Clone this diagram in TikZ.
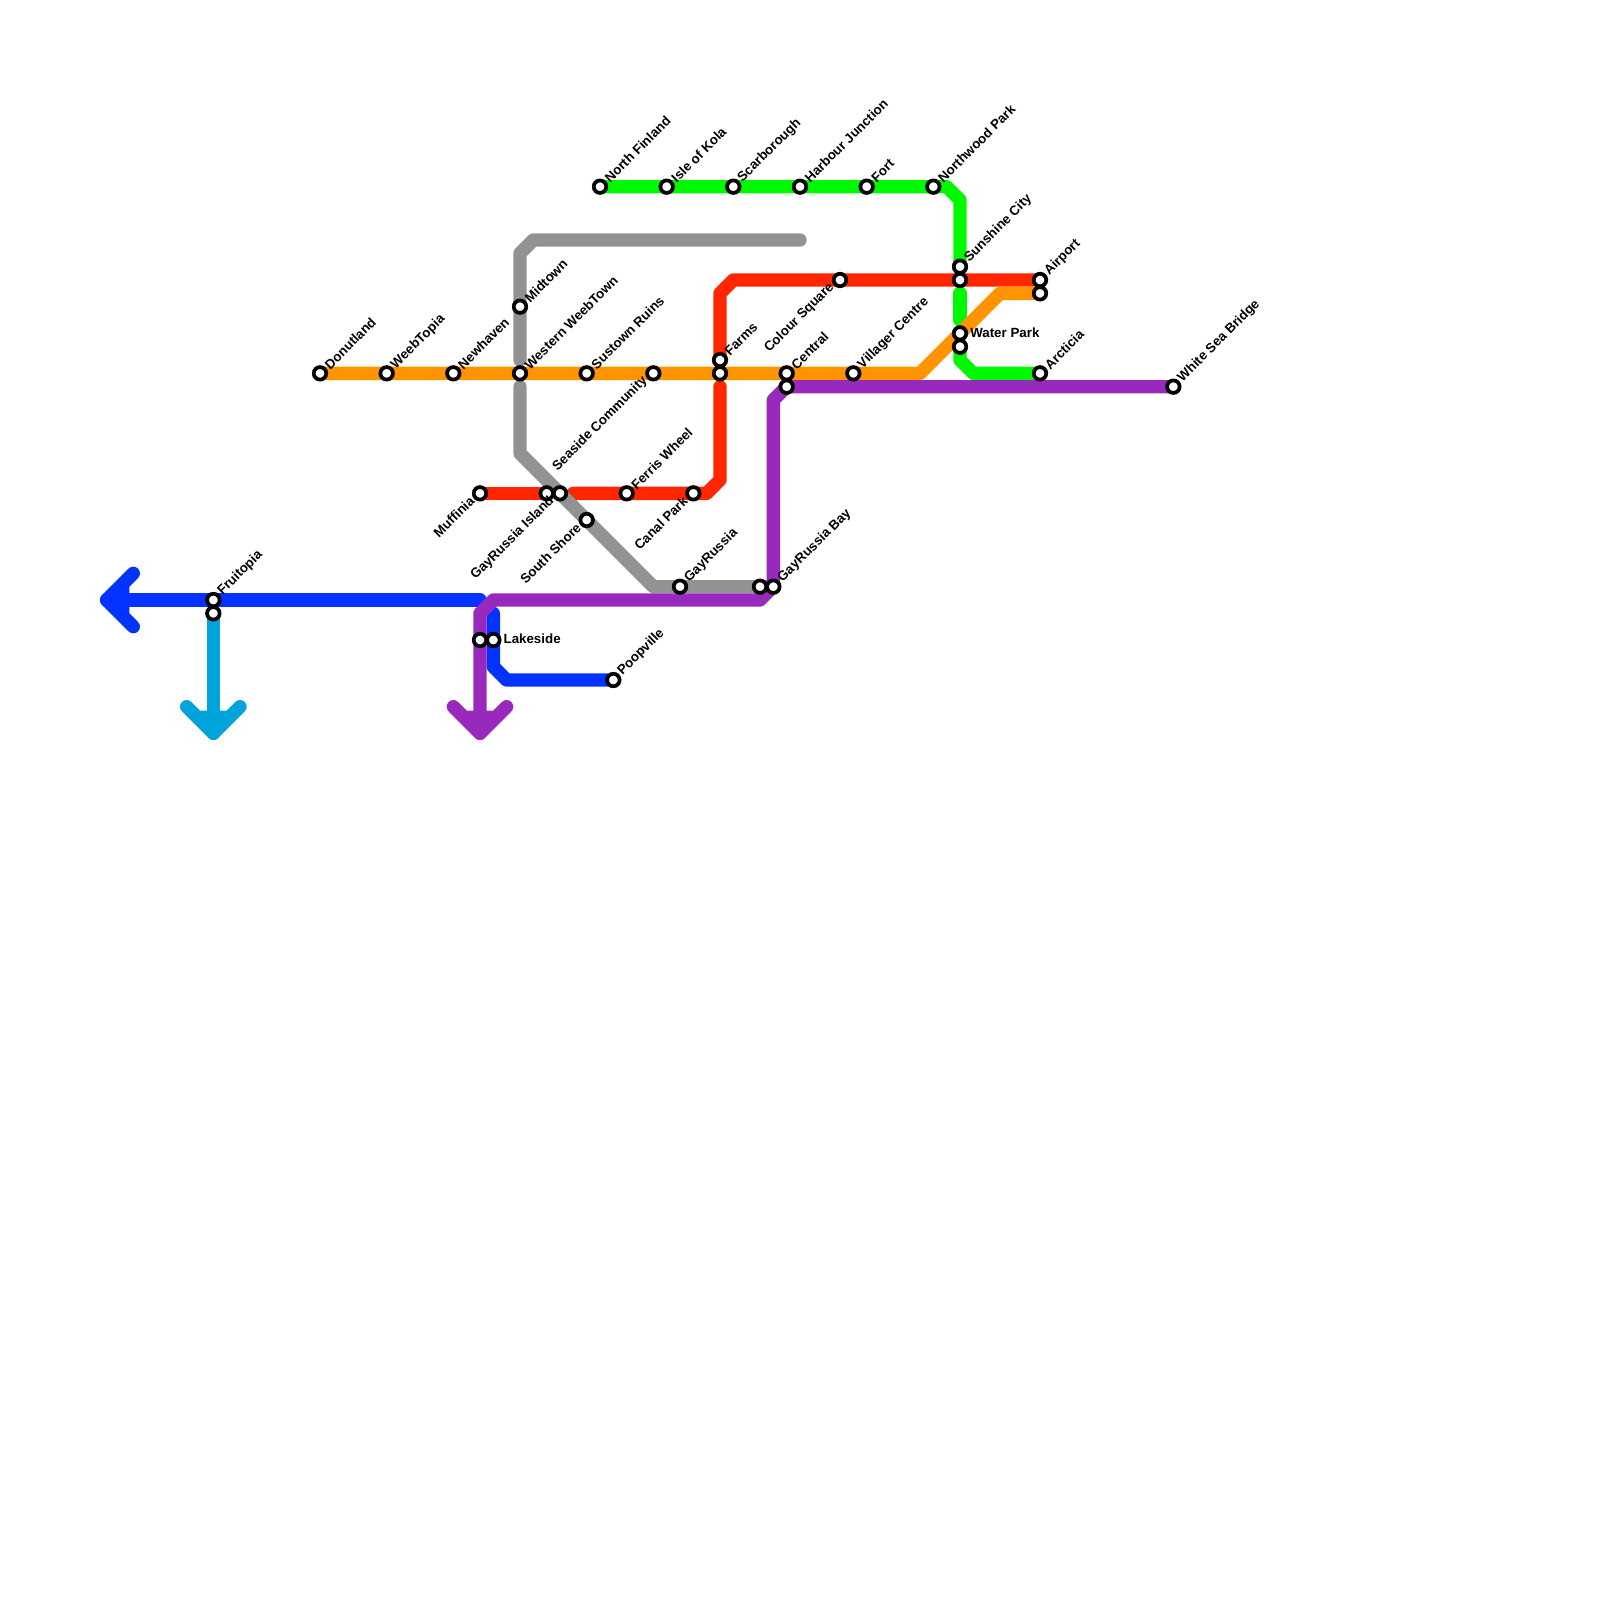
\documentclass[tikz,border=0pt]{standalone}
\usepackage{fontspec}
\setmainfont{Liberation Sans}
\pgfdeclarelayer{lines}
\pgfsetlayers{lines,main}

\definecolor{orangeline}{RGB}{255, 147, 0}
\definecolor{redline}{RGB}{255, 38, 0}
\definecolor{greenline}{RGB}{0, 249, 0}
\definecolor{greyline}{RGB}{146, 146, 146}
\definecolor{blueline}{RGB}{4, 51, 255}
\definecolor{aqualine}{RGB}{0, 163, 218}
\definecolor{purpleline}{RGB}{153, 41, 189}

\tikzset{
  metro/.style={line width=10pt, line cap=round, line join=round},
  stn/.style={circle, draw=black, fill=white, line width=2.8pt, minimum size=9.4pt, inner sep=0pt},
  lblne/.style={font=\fontsize{10}{10}\selectfont\bfseries, rotate=45, anchor=west, inner sep=0pt, xshift=7pt, yshift=-0.1pt},
  lblsw/.style={font=\fontsize{10}{10}\selectfont\bfseries, rotate=45, anchor=east, inner sep=0pt, xshift=-7pt, yshift=1.4pt},
  lblr/.style={font=\fontsize{10}{10}\selectfont\bfseries, anchor=west, inner sep=0pt, xshift=7.5pt, yshift=0.7pt}
}

\begin{document}
\begin{tikzpicture}[x=10pt, y=-10pt]
\useasboundingbox (0,0) rectangle (120,120);

% orange
\node[stn] (donutland) at (24,28) {};
\node[lblne] at (donutland) {Donutland};
\node[stn] (weebtopia) at (29,28) {};
\node[lblne] at (weebtopia) {WeebTopia};
\node[stn] (newhaven) at (34,28) {};
\node[lblne] at (newhaven) {Newhaven};
\node[stn] (western) at (39,28) {};
\node[lblne] at (western) {Western WeebTown};
\node[stn] (sustown) at (44,28) {};
\node[lblne] at (sustown) {Sustown Ruins};
\node[stn] (seaside) at (49,28) {};
\node[lblsw] at (seaside) {Seaside Community};
\node[stn] (farmslow) at (54,28) {};
\node[stn] (central) at (59,28) {};
\node[lblne] at (central) {Central};
\node[stn] (villager) at (64,28) {};
\node[lblne] at (villager) {Villager Centre};
\node[stn] (airportlow) at (78,22) {};

% red
\node[stn] (muffinia) at (36,37) {};
\node[lblsw] at (muffinia) {Muffinia};
\node[stn] (gayislanda) at (41,37) {};
\node[stn] (gayisland) at (42,37) {};
\node[lblsw] at (gayisland) {GayRussia Island};
\node[stn] (ferris) at (47,37) {};
\node[lblne] at (ferris) {Ferris Wheel};
\node[stn] (canal) at (52,37) {};
\node[lblsw] at (canal) {Canal Park};
\node[stn] (farms) at (54,27) {};
\node[lblne] at (farms) {Farms};
\node[stn] (colour) at (63,21) {};
\node[lblsw] at (colour) {Colour Square};
\node[stn] (sunshinelow) at (72,21) {};
\node[stn] (airport) at (78,21) {};
\node[lblne] at (airport) {Airport};

% green
\node[stn] (finland) at (45,14) {};
\node[lblne] at (finland) {North Finland};
\node[stn] (kola) at (50,14) {};
\node[lblne] at (kola) {Isle of Kola};
\node[stn] (scarborough) at (55,14) {};
\node[lblne] at (scarborough) {Scarborough};
\node[stn] (harbour) at (60,14) {};
\node[lblne] at (harbour) {Harbour Junction};
\node[stn] (fort) at (65,14) {};
\node[lblne] at (fort) {Fort};
\node[stn] (northwood) at (70,14) {};
\node[lblne] at (northwood) {Northwood Park};
\node[stn] (sunshine) at (72,20) {};
\node[lblne] at (sunshine) {Sunshine City};
\node[stn] (water) at (72,25) {};
\node[lblr] at (water) {Water Park};
\node[stn] (waterlow) at (72,26) {};
\node[stn] (arcticia) at (78,28) {};
\node[lblne] at (arcticia) {Arcticia};

% grey
\node[stn] (midtown) at (39,23) {};
\node[lblne] at (midtown) {Midtown};
\node[stn] (south) at (44,39) {};
\node[lblsw] at (south) {South Shore};
\node[stn] (gayrussia) at (51,44) {};
\node[lblne] at (gayrussia) {GayRussia};
\node[stn] (baygrey) at (57,44) {};

% purple
\node[stn] (bay) at (58,44) {};
\node[lblne] at (bay) {GayRussia Bay};
\node[stn] (centrallow) at (59,29) {};
\node[stn] (whitesea) at (88,29) {};
\node[lblne] at (whitesea) {White Sea Bridge};
\node[stn] (lakesidel) at (36,48) {};

% blue
\node[stn] (fruitopia) at (16,45) {};
\node[lblne] at (fruitopia) {Fruitopia};
\node[stn] (fruitopialow) at (16,46) {};
\node[stn] (lakeside) at (37,48) {};
\node[lblr] at (lakeside) {Lakeside};
\node[stn] (poopville) at (46,51) {};
\node[lblne] at (poopville) {Poopville};

\begin{pgfonlayer}{lines}
% blue
\draw[metro, blueline] (36,45) -- (fruitopia.center) -- (8,45);
\draw[metro, blueline] (10,43) -- (8,45) -- (10,47);
\fill[blueline] (9.7,44) -- (9.7,46) -- (8,45) -- cycle;
\draw[metro, blueline] (37,46) -- (lakeside.center) -- (37,50) -- (38,51) -- (poopville.center);
% aqua
\draw[metro, aqualine] (fruitopialow.center) -- (16,55);
\draw[metro, aqualine] (14,53) -- (16,55) -- (18,53);
\fill[aqualine] (15,53.3) -- (17,53.3) -- (16,55) -- cycle;
% green
\draw[metro, greenline] (finland.center) -- (northwood.center) -- (71,14) -- (72,15) -- (sunshine.center);
\draw[metro, greenline] (72,22) -- (72,24);
\draw[metro, greenline] (waterlow.center) -- (72,27) -- (73,28) -- (arcticia.center);
% red
\draw[metro, redline] (muffinia.center) -- (gayislanda.center);
\draw[metro, redline] (43,37) -- (ferris.center) -- (canal.center) -- (53,37) -- (54,36) -- (54,29);
\draw[metro, redline] (farms.center) -- (54,22) -- (55,21) -- (colour.center) -- (airport.center);
% grey
\draw[metro, greyline] (60,18) -- (40,18) -- (39,19) -- (midtown.center) -- (39,27);
\draw[metro, greyline] (39,29) -- (39,34) -- (south.center) -- (49,44) -- (gayrussia.center) -- (bay.center);
% orange
\draw[metro, orangeline] (donutland.center) -- (villager.center) -- (69,28) -- (75,22) -- (airportlow.center);
% purple
\draw[metro, purpleline] (whitesea.center) -- (centrallow.center) -- (58,30) -- (bay.center) -- (57,45) -- (37,45) -- (36,46) -- (36,55);
\draw[metro, purpleline] (34,53) -- (36,55) -- (38,53);
\fill[purpleline] (35,53.3) -- (37,53.3) -- (36,55) -- cycle;
\end{pgfonlayer}
\end{tikzpicture}
\end{document}
